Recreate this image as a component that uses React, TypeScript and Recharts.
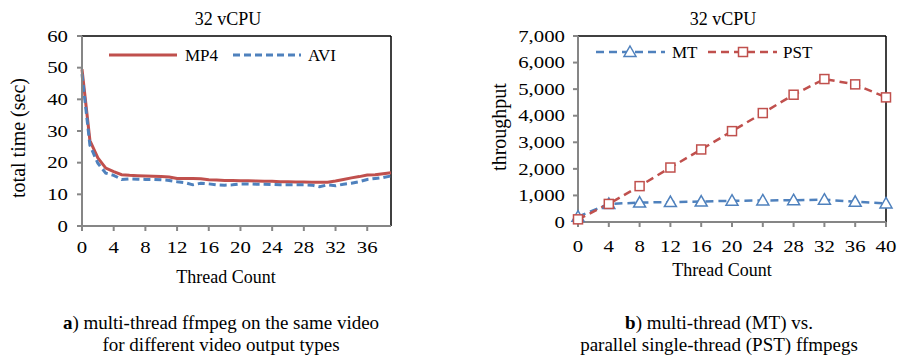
import React from "react";
import { Line, LineChart, ReferenceLine, XAxis, YAxis } from "recharts";

// (a) total time per thread count, 32 vCPU
const threadsA = [
  0, 1, 2, 3, 4, 5, 6, 7, 8, 9, 10, 11, 12, 13, 14, 15, 16, 17, 18, 19,
  20, 21, 22, 23, 24, 25, 26, 27, 28, 29, 30, 31, 32, 33, 34, 35, 36, 37, 38, 39,
];
const mp4 = [
  49.5, 27, 21.5, 18.3, 17.2, 16.2, 16.0, 15.9, 15.8, 15.7, 15.6, 15.5, 15.0, 15.0,
  15.0, 14.9, 14.6, 14.5, 14.4, 14.4, 14.3, 14.3, 14.2, 14.1, 14.1, 14.0, 14.0, 13.9,
  13.9, 13.8, 13.8, 13.8, 14.2, 14.7, 15.2, 15.6, 16.1, 16.2, 16.5, 16.8,
];
const avi = [
  48, 25.5, 19.8, 16.7, 16.0, 14.7, 14.9, 14.8, 14.7, 14.7, 14.6, 14.4, 14.0, 13.7,
  13.0, 13.5, 13.3, 13.0, 12.9, 13.0, 13.3, 13.3, 13.2, 13.2, 13.1, 13.0, 13.0, 13.0,
  13.0, 12.9, 12.4, 13.0, 12.7, 13.2, 13.5, 14.0, 14.7, 15.0, 15.3, 15.8,
];
const ticksA = [0, 4, 8, 12, 16, 20, 24, 28, 32, 36];
const yTicksA = [0, 10, 20, 30, 40, 50, 60];

// (b) throughput, MT vs PST
const threadsB = [0, 4, 8, 12, 16, 20, 24, 28, 32, 36, 40];
const mt = [200, 680, 730, 750, 770, 800, 810, 820, 840, 760, 700];
const pst = [100, 680, 1350, 2050, 2730, 3420, 4100, 4790, 5380, 5180, 4690];
const yTicksB = [0, 1000, 2000, 3000, 4000, 5000, 6000, 7000];

const RED = "#C0504D";
const BLUE = "#4F81BD";
const AXIS = "#868686";
const FONT = "'Liberation Serif', 'Times New Roman', serif";

const dataA = threadsA.map((t, i) => ({ t, mp4: mp4[i], avi: avi[i] }));
const dataB = threadsB.map((t, i) => ({ t, mt: mt[i], pst: pst[i] }));

// tick labels in the source look horizontally stretched
function StretchTick(props: any) {
  const { x, y, payload, textAnchor, fmt, vdy } = props;
  const label = fmt ? fmt(payload.value) : String(payload.value);
  return (
    <text
      x={x}
      y={y}
      dy={vdy}
      textAnchor={textAnchor}
      fontSize={16}
      fontFamily={FONT}
      fill="#000"
      transform={`translate(${x} ${y}) scale(1.3 1) translate(${-x} ${-y})`}
    >
      {label}
    </text>
  );
}

const Triangle = (props: any) => {
  const { cx, cy } = props;
  if (cx == null || cy == null) return null;
  return (
    <path
      d={`M${cx},${cy - 6} L${cx + 6},${cy + 4.5} L${cx - 6},${cy + 4.5} Z`}
      fill="#fff"
      stroke={BLUE}
      strokeWidth={1.5}
    />
  );
};

const Square = (props: any) => {
  const { cx, cy } = props;
  if (cx == null || cy == null) return null;
  return (
    <rect x={cx - 4.5} y={cy - 4.5} width={9} height={9} fill="#fff" stroke={RED} strokeWidth={1.5} />
  );
};

const txt: React.CSSProperties = {
  position: "absolute",
  fontFamily: FONT,
  color: "#000",
  whiteSpace: "nowrap",
  lineHeight: 1,
};

export default function App() {
  return (
    <div style={{ position: "absolute", left: 0, top: 0, width: 897, height: 359, background: "#fff" }}>
      {/* chart a */}
      <div style={{ position: "absolute", left: 0, top: 0 }}>
        <LineChart width={420} height={260} data={dataA} margin={{ top: 36, right: 29, bottom: 4, left: 22 }}>
          <XAxis
            dataKey="t"
            type="number"
            domain={[0, 39]}
            ticks={ticksA}
            interval={0}
            stroke={AXIS}
            strokeWidth={2}
            tickSize={5}
            tickMargin={11}
            height={30}
            tick={<StretchTick vdy="0.71em" />}
          />
          <YAxis
            type="number"
            domain={[0, 60]}
            ticks={yTicksA}
            interval={0}
            stroke={AXIS}
            strokeWidth={2}
            tickSize={5}
            tickMargin={9}
            width={60}
            tick={<StretchTick vdy="0.355em" />}
          />
          <ReferenceLine y={60} stroke="#000" strokeWidth={1.5} />
          <ReferenceLine x={39} stroke="#000" strokeWidth={1.5} />
          <Line dataKey="mp4" stroke={RED} strokeWidth={3} dot={false} isAnimationActive={false} />
          <Line
            dataKey="avi"
            stroke={BLUE}
            strokeWidth={3}
            strokeDasharray="7 4"
            dot={false}
            isAnimationActive={false}
          />
        </LineChart>
      </div>

      {/* chart b */}
      <div style={{ position: "absolute", left: 470, top: 0 }}>
        <LineChart width={427} height={260} data={dataB} margin={{ top: 36, right: 11, bottom: 8, left: 38 }}>
          <XAxis
            dataKey="t"
            type="number"
            domain={[0, 40]}
            ticks={threadsB}
            interval={0}
            stroke={AXIS}
            strokeWidth={2}
            tickSize={5}
            tickMargin={14}
            height={30}
            tick={<StretchTick vdy="0.71em" />}
          />
          <YAxis
            type="number"
            domain={[0, 7000]}
            ticks={yTicksB}
            interval={0}
            stroke={AXIS}
            strokeWidth={2}
            tickSize={5}
            tickMargin={8}
            width={70}
            tick={<StretchTick vdy="0.355em" fmt={(v: number) => v.toLocaleString("en-US")} />}
          />
          <ReferenceLine y={7000} stroke="#000" strokeWidth={1.5} />
          <ReferenceLine x={40} stroke="#000" strokeWidth={1.5} />
          <Line
            dataKey="mt"
            stroke={BLUE}
            strokeWidth={2.5}
            strokeDasharray="8 5"
            dot={<Triangle />}
            isAnimationActive={false}
          />
          <Line
            dataKey="pst"
            stroke={RED}
            strokeWidth={2.5}
            strokeDasharray="8 5"
            dot={<Square />}
            isAnimationActive={false}
          />
        </LineChart>
      </div>

      {/* legends */}
      <svg style={{ position: "absolute", left: 0, top: 0 }} width={897} height={80}>
        <line x1={109} y1={55} x2={177} y2={55} stroke={RED} strokeWidth={3} />
        <text x={185} y={61} fontSize={17} fontFamily={FONT}>MP4</text>
        <line x1={233} y1={55} x2={301} y2={55} stroke={BLUE} strokeWidth={3} strokeDasharray="7 4" />
        <text x={308} y={61} fontSize={17} fontFamily={FONT}>AVI</text>

        <line x1={596} y1={52} x2={665} y2={52} stroke={BLUE} strokeWidth={2.5} strokeDasharray="8 5" />
        <Triangle cx={630} cy={52} />
        <text x={672} y={58} fontSize={17} fontFamily={FONT}>MT</text>
        <line x1={708} y1={52} x2={777} y2={52} stroke={RED} strokeWidth={2.5} strokeDasharray="8 5" />
        <Square cx={743} cy={52} />
        <text x={783} y={58} fontSize={17} fontFamily={FONT}>PST</text>
      </svg>

      {/* titles */}
      <div style={{ ...txt, left: 228, top: 10, fontSize: 18, transform: "translateX(-50%)" }}>32 vCPU</div>
      <div style={{ ...txt, left: 723, top: 10, fontSize: 18, transform: "translateX(-50%)" }}>32 vCPU</div>

      {/* axis titles */}
      <div style={{ ...txt, left: 226, top: 268, fontSize: 18, transform: "translateX(-50%)" }}>Thread Count</div>
      <div style={{ ...txt, left: 722, top: 261, fontSize: 18, transform: "translateX(-50%)" }}>Thread Count</div>
      <div
        style={{ ...txt, left: 18, top: 138, fontSize: 20, transform: "translate(-50%, -50%) rotate(-90deg)" }}
      >
        total time (sec)
      </div>
      <div
        style={{ ...txt, left: 499, top: 127, fontSize: 20, transform: "translate(-50%, -50%) rotate(-90deg)" }}
      >
        throughput
      </div>

      {/* captions */}
      <div style={{ ...txt, left: 221, top: 312, fontSize: 19, lineHeight: "22px", textAlign: "center", transform: "translateX(-50%)" }}>
        <b>a</b>) multi-thread ffmpeg on the same video
        <br />
        for different video output types
      </div>
      <div style={{ ...txt, left: 719, top: 312, fontSize: 19, lineHeight: "22px", textAlign: "center", transform: "translateX(-50%)" }}>
        <b>b</b>) multi-thread (MT) vs.
        <br />
        parallel single-thread (PST) ffmpegs
      </div>
    </div>
  );
}
